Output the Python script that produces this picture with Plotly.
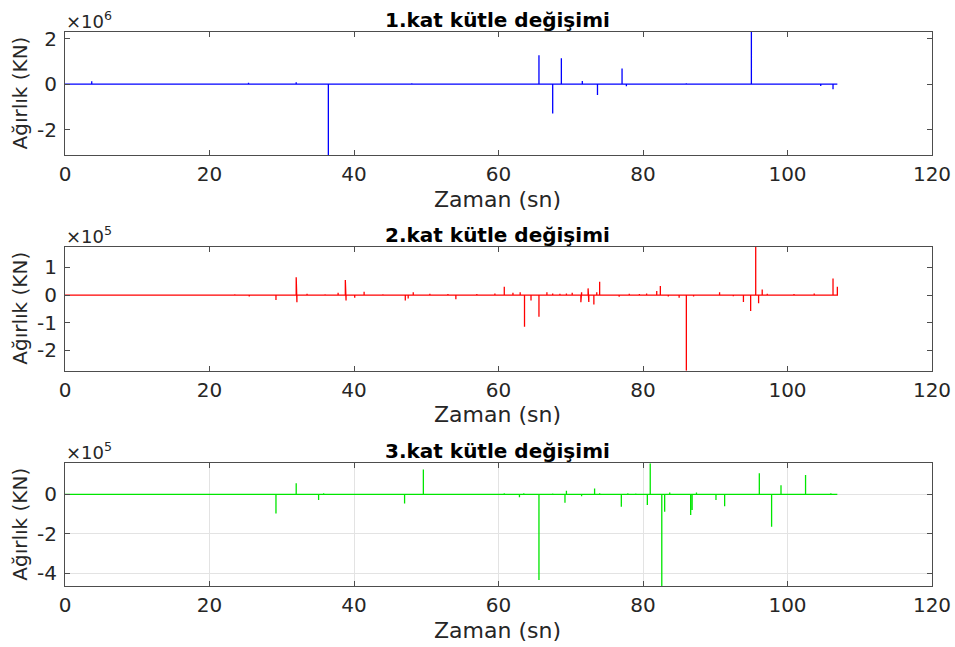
import plotly.graph_objects as go

# ---------------- data ----------------
t_end = 106.9

# Panel 1: 1.kat (KN)
t1 = [3.7, 25.4, 32.0, 36.45, 43.0, 48.0, 62.5, 65.6, 67.5, 68.7, 71.6, 73.7,
      77.1, 77.7, 86.0, 95.0, 104.6, 106.3]
v1 = [0.12e6, 0.06e6, 0.08e6, -3.12e6, 0.03e6, 0.04e6, -0.03e6, 1.27e6, -1.29e6,
      1.13e6, 0.13e6, -0.48e6, 0.69e6, -0.10e6, 0.04e6, 2.29e6, -0.09e6, -0.23e6]

# Panel 2: 2.kat (KN)
t2 = [8.0, 13.5, 23.5, 25.5, 29.2, 32.0, 32.1, 33.5, 36.0, 37.8, 38.8, 38.9,
      40.1, 41.4, 44.0, 47.1, 47.5, 48.2, 50.5, 53.0, 54.1, 57.0, 59.5, 60.8,
      62.0, 63.0, 63.6, 64.5, 65.6, 66.7, 67.5, 68.5, 69.4, 70.2, 71.4, 71.5,
      72.4, 72.5, 73.2, 73.6, 74.0, 76.7, 78.1, 79.5, 80.5, 81.9, 82.4, 83.5,
      85.0, 86.0, 87.0, 90.6, 92.5, 93.9, 94.9, 95.6, 96.0, 96.5, 97.2, 100.9,
      103.7, 106.3, 106.9]
v2 = [0.02e5, 0.02e5, 0.03e5, -0.05e5, -0.18e5, 0.64e5, -0.26e5, 0.05e5, 0.03e5,
      0.08e5, 0.54e5, -0.20e5, -0.10e5, 0.12e5, 0.03e5, -0.20e5, -0.12e5, 0.10e5,
      0.05e5, 0.04e5, -0.15e5, 0.04e5, 0.06e5, 0.30e5, 0.08e5, 0.10e5, -1.14e5,
      -0.20e5, -0.78e5, 0.10e5, 0.06e5, 0.05e5, 0.06e5, 0.08e5, -0.26e5, 0.10e5,
      0.24e5, -0.25e5, -0.34e5, 0.10e5, 0.48e5, -0.06e5, 0.05e5, 0.04e5, 0.06e5,
      0.15e5, 0.33e5, -0.05e5, -0.10e5, -2.73e5, -0.05e5, 0.10e5, -0.04e5, -0.25e5,
      -0.58e5, 1.745e5, -0.30e5, 0.20e5, 0.05e5, 0.04e5, 0.06e5, 0.60e5, 0.30e5]

# Panel 3: 3.kat (KN)
t3 = [17.1, 24.0, 29.2, 32.0, 35.1, 35.8, 38.0, 47.0, 49.6, 52.0, 56.0, 60.8,
      62.9, 63.5, 65.6, 67.5, 69.2, 69.4, 71.5, 73.3, 74.0, 77.0, 77.9, 79.0,
      80.6, 81.0, 82.6, 83.0, 83.7, 86.6, 86.8, 87.4, 90.1, 91.3, 94.0, 96.1,
      97.8, 99.1, 102.5, 106.0]
v3 = [0.02e5, 0.02e5, -0.97e5, 0.56e5, -0.29e5, 0.06e5, 0.03e5, -0.46e5, 1.27e5,
      0.03e5, 0.03e5, 0.06e5, -0.15e5, 0.06e5, -4.36e5, 0.05e5, -0.43e5, 0.18e5,
      -0.10e5, 0.30e5, 0.06e5, -0.63e5, 0.06e5, 0.04e5, -0.54e5, 1.58e5, -4.66e5,
      -0.88e5, 0.10e5, -1.05e5, -0.80e5, 0.10e5, -0.29e5, -0.60e5, 0.03e5, 1.07e5,
      -1.65e5, 0.47e5, 0.98e5, 0.06e5]

titles = ["1.kat kütle değişimi", "2.kat kütle değişimi", "3.kat kütle değişimi"]
exponents = ["6", "5", "5"]
y_ranges = [[-3.12e6, 2.29e6], [-2.73e5, 1.745e5], [-4.66e5, 1.58e5]]
y_tickvals = [[-2e6, 0, 2e6], [-2e5, -1e5, 0, 1e5], [-4e5, -2e5, 0]]
y_ticktext = [["-2", "0", "2"], ["-2", "-1", "0", "1"], ["-4", "-2", "0"]]
x_ticks = [0, 20, 40, 60, 80, 100, 120]
colors = ["#0000ff", "#ff0000", "#00e600"]
x_label = "Zaman (sn)"
y_label = "Ağırlık (KN)"


def spike_path(ts, vs):
    xs, ys = [0.0], [0.0]
    for t, v in zip(ts, vs):
        xs += [t, t, t]
        ys += [0.0, v, 0.0]
    xs.append(t_end)
    ys.append(0.0)
    return xs, ys


W, H = 955, 647


def px(x):
    return x / W


def py(y):
    return 1 - y / H


x_left, x_right = 65, 932
panels_px = [(32, 155), (246.7, 370.7), (463.3, 586)]

fig = go.Figure()
FONT = "DejaVu Sans, Liberation Sans, Arial, sans-serif"
TXT = "#262626"
AX = "#4d4d4d"

annotations = []
for i, (ts, vs) in enumerate([(t1, v1), (t2, v2), (t3, v3)]):
    xs, ys = spike_path(ts, vs)
    n = "" if i == 0 else str(i + 1)
    fig.add_trace(go.Scatter(x=xs, y=ys, mode="lines",
                             line=dict(color=colors[i], width=1.3),
                             xaxis="x" + n, yaxis="y" + n, showlegend=False,
                             hoverinfo="skip"))
    top, bot = panels_px[i]
    ydom = [py(bot), py(top)]
    grid = (i == 2)
    fig.update_layout(**{
        "xaxis" + n: dict(domain=[px(x_left), px(x_right)], range=[0, 120],
                          tickvals=x_ticks,
                          ticks="inside", ticklen=5,
                          tickcolor=AX, showline=True, linecolor=AX, linewidth=1,
                          mirror="ticks", showgrid=grid, gridcolor="#e3e3e3",
                          zeroline=False, anchor="y" + n, automargin=False,
                          tickfont=dict(size=20, color=TXT, family=FONT),
                          ticklabelstandoff=1),
        "yaxis" + n: dict(domain=ydom, range=y_ranges[i],
                          tickvals=y_tickvals[i], ticktext=y_ticktext[i],
                          ticks="inside", ticklen=5, tickcolor=AX, showline=True,
                          linecolor=AX, linewidth=1, mirror="ticks",
                          showgrid=grid, gridcolor="#e3e3e3", zeroline=False,
                          anchor="x" + n, automargin=False,
                          tickfont=dict(size=20, color=TXT, family=FONT),
                          ticklabelstandoff=3),
    })
    # title
    annotations.append(dict(text="<b>" + titles[i] + "</b>", x=px(498),
                            y=py(top - 12), xref="paper", yref="paper",
                            showarrow=False, xanchor="center", yanchor="middle",
                            font=dict(size=20, color="#000000", family=FONT)))
    # exponent
    annotations.append(dict(text="×10<sup>" + exponents[i] + "</sup>",
                            x=px(64), y=py(top - 12), xref="paper",
                            yref="paper", showarrow=False, xanchor="left",
                            yanchor="middle",
                            font=dict(size=18, color=TXT, family=FONT)))
    # x label
    annotations.append(dict(text=x_label, x=px(498), y=py(bot + 44),
                            xref="paper", yref="paper", showarrow=False,
                            xanchor="center", yanchor="middle",
                            font=dict(size=22, color=TXT, family=FONT)))
    # y label
    annotations.append(dict(text=y_label, x=px(20), y=py((top + bot) / 2),
                            xref="paper", yref="paper", showarrow=False,
                            xanchor="center", yanchor="middle", textangle=-90,
                            font=dict(size=20, color=TXT, family=FONT)))

fig.update_layout(width=W, height=H, margin=dict(l=0, r=0, t=0, b=0),
                  paper_bgcolor="white", plot_bgcolor="white",
                  annotations=annotations, showlegend=False)

fig.write_html("out.html", config={"displayModeBar": False},
               post_script="document.body.style.margin='0';"
                           "document.body.style.overflow='hidden';")
